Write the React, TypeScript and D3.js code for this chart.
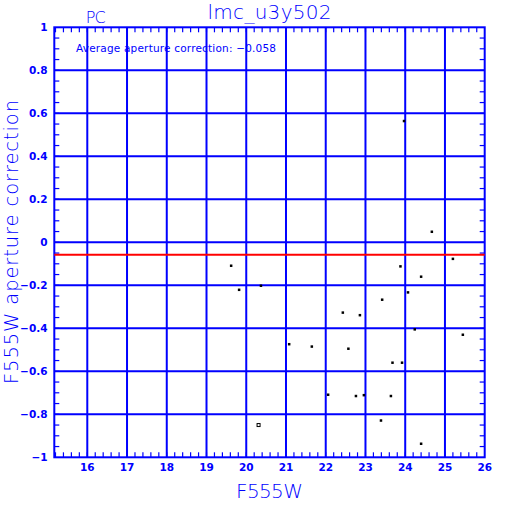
import React, { useRef, useEffect } from "react";
import * as d3 from "d3";

// F555W magnitudes and aperture corrections
const mags = [
  19.62, 19.82, 20.37, 23.97, 24.67, 25.2, 23.88, 24.4, 24.07, 23.42, 22.43,
  22.86, 24.24, 25.45, 22.57, 21.08, 21.65, 23.68, 23.92, 22.06, 22.76, 22.96,
  23.64, 23.39, 24.4,
];
const corrections = [
  -0.109, -0.221, -0.202, 0.564, 0.049, -0.077, -0.112, -0.16, -0.233, -0.267,
  -0.327, -0.339, -0.405, -0.43, -0.495, -0.474, -0.485, -0.56, -0.56, -0.709,
  -0.715, -0.711, -0.715, -0.829, -0.937,
];
// the one rejected star, drawn hollow
const rejectedMags = [20.31];
const rejectedCorrections = [-0.85];

const avgCorrection = -0.058;
const xTicks = [16, 17, 18, 19, 20, 21, 22, 23, 24, 25, 26];
const yTicks = [-1, -0.8, -0.6, -0.4, -0.2, 0, 0.2, 0.4, 0.6, 0.8, 1];

const BLUE = "#0000ff";

const fmt = (v) => {
  const r = Math.round(v * 1000) / 1000;
  return r < 0 ? "\u2212" + String(-r) : String(r);
};

const App = () => {
  const ref = useRef(null);

  useEffect(() => {
    const svg = d3.select(ref.current);
    svg.selectAll("*").remove();

    const x = d3.scaleLinear().domain([15.17, 26]).range([54.3, 484.7]);
    const y = d3.scaleLinear().domain([-1, 1]).range([457.3, 27.3]);
    const [x0, x1] = x.range();
    const [y0, y1] = y.range();

    svg.append("rect").attr("width", 512).attr("height", 512).attr("fill", "white");

    // minor ticks
    const minorX = d3.range(15.2, 26, 0.2);
    const minorY = d3.range(-0.95, 1, 0.05);
    const ticks = svg.append("g").attr("stroke", BLUE).attr("stroke-width", 1.2);
    minorX.forEach((v) => {
      ticks.append("line").attr("x1", x(v)).attr("x2", x(v)).attr("y1", y0).attr("y2", y0 - 5);
      ticks.append("line").attr("x1", x(v)).attr("x2", x(v)).attr("y1", y1).attr("y2", y1 + 5);
    });
    minorY.forEach((v) => {
      ticks.append("line").attr("x1", x0).attr("x2", x0 + 5).attr("y1", y(v)).attr("y2", y(v));
      ticks.append("line").attr("x1", x1).attr("x2", x1 - 5).attr("y1", y(v)).attr("y2", y(v));
    });

    // grid
    const grid = svg.append("g").attr("stroke", BLUE).attr("stroke-width", 2);
    xTicks.slice(0, -1).forEach((v) => {
      grid.append("line").attr("x1", x(v)).attr("x2", x(v)).attr("y1", y0).attr("y2", y1);
    });
    yTicks.slice(1, -1).forEach((v) => {
      grid.append("line").attr("x1", x0).attr("x2", x1).attr("y1", y(v)).attr("y2", y(v));
    });

    // frame
    svg
      .append("rect")
      .attr("x", x0)
      .attr("y", y1)
      .attr("width", x1 - x0)
      .attr("height", y0 - y1)
      .attr("fill", "none")
      .attr("stroke", BLUE)
      .attr("stroke-width", 2);

    // average line
    svg
      .append("line")
      .attr("x1", x0)
      .attr("x2", x1)
      .attr("y1", y(avgCorrection))
      .attr("y2", y(avgCorrection))
      .attr("stroke", "#ff0000")
      .attr("stroke-width", 2);

    // points
    svg
      .append("g")
      .selectAll("rect")
      .data(mags.map((m, i) => [m, corrections[i]]))
      .enter()
      .append("rect")
      .attr("x", (d) => x(d[0]) - 1.25)
      .attr("y", (d) => y(d[1]) - 1.25)
      .attr("width", 2.5)
      .attr("height", 2.5)
      .attr("fill", "black");

    svg
      .append("g")
      .selectAll("rect")
      .data(rejectedMags.map((m, i) => [m, rejectedCorrections[i]]))
      .enter()
      .append("rect")
      .attr("x", (d) => x(d[0]) - 1.5)
      .attr("y", (d) => y(d[1]) - 1.5)
      .attr("width", 3)
      .attr("height", 3)
      .attr("fill", "none")
      .attr("stroke", "black")
      .attr("stroke-width", 1);

    // tick labels
    svg
      .append("g")
      .selectAll("text")
      .data(xTicks)
      .enter()
      .append("text")
      .attr("x", (d) => x(d))
      .attr("y", 471)
      .attr("text-anchor", "middle")
      .attr("font-family", "DejaVu Sans")
      .attr("font-weight", "bold")
      .attr("font-size", 10.5)
      .attr("fill", BLUE)
      .text((d) => d);

    svg
      .append("g")
      .selectAll("text")
      .data(yTicks)
      .enter()
      .append("text")
      .attr("x", 47.5)
      .attr("y", (d) => y(d) + 3.8)
      .attr("text-anchor", "end")
      .attr("font-family", "DejaVu Sans")
      .attr("font-weight", "bold")
      .attr("font-size", 10.5)
      .attr("fill", BLUE)
      .text((d) => fmt(d));

    const label = (txt, attrs, weight = 200) => {
      const t = svg
        .append("text")
        .attr("font-family", "DejaVu Sans")
        .attr("font-weight", weight)
        .attr("fill", BLUE)
        .text(txt);
      Object.entries(attrs).forEach(([k, v]) => t.attr(k, v));
      return t;
    };

    label("lmc_u3y502", {
      x: (x0 + x1) / 2,
      y: 19,
      "text-anchor": "middle",
      "font-size": 20,
      textLength: 124,
    });
    label("PC", { x: 85.7, y: 23.3, "font-size": 16, textLength: 20 });
    label("F555W", {
      x: (x0 + x1) / 2,
      y: 497.7,
      "text-anchor": "middle",
      "font-size": 20,
      textLength: 67,
    });
    label("F555W aperture correction", {
      transform: "translate(18,242) rotate(-90)",
      "text-anchor": "middle",
      "font-size": 19.5,
      textLength: 284,
    });
    label(
      `Average aperture correction: ${fmt(avgCorrection).replace("0.", "0.0").slice(0, 1)}${d3.format(".3f")(-avgCorrection)}`,
      { x: 76, y: 52.3, "font-size": 10.5, textLength: 200 },
      "normal"
    );
  }, []);

  return (
    <svg
      ref={ref}
      width={512}
      height={512}
      style={{ position: "absolute", left: 0, top: 0 }}
    />
  );
};

export default App;
